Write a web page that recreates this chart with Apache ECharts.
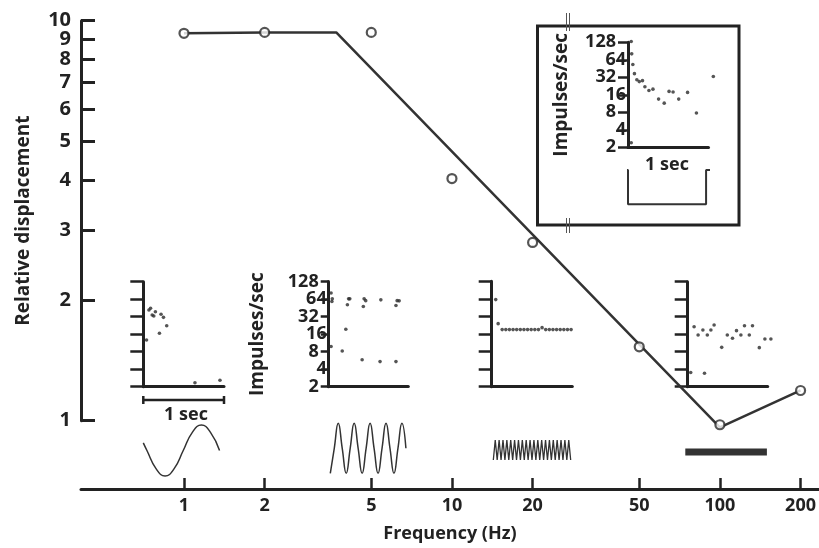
<!DOCTYPE html>
<html>
<head>
<meta charset="utf-8">
<script src="https://cdn.jsdelivr.net/npm/echarts@6/dist/echarts.min.js"></script>
<style>
  html, body { margin: 0; padding: 0; background: #fff; }
  #chart { width: 819px; height: 548px; }
</style>
</head>
<body>
<div id="chart"></div>
<script>
// main plot: threshold displacement vs frequency
const freqHz = [1, 2, 5, 10, 20, 50, 100, 200];
const displacement = [9.3, 9.35, 9.35, 4.03, 2.79, 1.53, 0.977, 1.19];
const curveHz = [1, 2, 3.7, 100, 200];
const curveDisp = [9.3, 9.35, 9.35, 0.962, 1.19];
const xTicks = [1, 2, 5, 10, 20, 50, 100, 200];
const yTicks = [1, 2, 3, 4, 5, 6, 7, 8, 9, 10];

// insets: impulses/sec against time (sec)
const inset1Time = [0.04, 0.07, 0.09, 0.11, 0.13, 0.15, 0.20, 0.22, 0.25, 0.29, 0.64, 0.95];
const inset1Rate = [12.7, 41.7, 44.6, 34.2, 32.9, 39, 16.6, 35.2, 31.2, 22.4, 2.34, 2.58];

const inset2Time = [0.03, 0.045, 0.04, 0.25, 0.265, 0.235, 0.445, 0.465, 0.435, 0.655, 0.86, 0.885, 0.845, 0.215, 0.03, 0.17, 0.42, 0.645, 0.845];
const inset2Rate = [81, 64.5, 58, 64.5, 64.5, 51, 64.5, 60, 47.6, 62, 60, 59.6, 49.5, 19.4, 9.8, 8.2, 5.8, 5.4, 5.4];

const inset3Time = [0.05, 0.08, 0.13, 0.175, 0.22, 0.265, 0.31, 0.355, 0.40, 0.445, 0.49, 0.535, 0.58, 0.625, 0.67, 0.715, 0.76, 0.805, 0.85, 0.895, 0.94, 0.985];
const inset3Rate = [62, 24, 19, 19, 19, 19, 19, 19, 19, 19, 19, 19, 19, 20.5, 19, 19, 19, 19, 19, 19, 19, 19];

const inset4Time = [0.0375, 0.08, 0.13, 0.19, 0.245, 0.29, 0.33, 0.21, 0.425, 0.495, 0.56, 0.61, 0.665, 0.71, 0.77, 0.81, 0.895, 0.965, 1.04];
const inset4Rate = [3.5, 21.5, 15.5, 18.9, 15.5, 18.9, 23, 3.4, 9.5, 15.5, 13.6, 18.4, 15.5, 22.4, 15.5, 22.4, 9.4, 13.2, 13.2];

const inset5Time = [0.04, 0.046, 0.06, 0.08, 0.11, 0.14, 0.18, 0.21, 0.26, 0.31, 0.38, 0.45, 0.51, 0.56, 0.63, 0.74, 0.85, 1.06, 0.04];
const inset5Rate = [132, 81, 53, 37, 29, 27, 28, 22, 19, 20, 13.5, 11.5, 18.3, 17.9, 13.5, 17.6, 7.8, 33, 2.4];
const rateTicks = [2, 4, 8, 16, 32, 64, 128];

// stimulus traces under each inset (time in sec, relative level)
const stim1Time = [0, 0.045, 0.1575, 0.27, 0.3825, 0.495, 0.6075, 0.72, 0.8325, 0.945];
const stim1Level = [0.3, 0, -0.71, -1, -0.71, 0, 0.71, 1, 0.71, 0];
const stim2Time = [0.02, 0.07, 0.12, 0.17, 0.22, 0.27, 0.32, 0.37, 0.42, 0.47, 0.52, 0.57, 0.62, 0.67, 0.72, 0.77, 0.82, 0.87, 0.92, 0.97];
const stim2Level = [-1, 0, 1, 0, -1, 0, 1, 0, -1, 0, 1, 0, -1, 0, 1, 0, -1, 0, 1, 0];
const stim3Time = [0.02, 0.044, 0.068, 0.092, 0.116, 0.14, 0.164, 0.188, 0.212, 0.236, 0.26, 0.284, 0.308, 0.332, 0.356, 0.38, 0.404, 0.428, 0.452, 0.476, 0.5, 0.524, 0.548, 0.572, 0.596, 0.62, 0.644, 0.668, 0.692, 0.716, 0.74, 0.764, 0.788, 0.812, 0.836, 0.86, 0.884, 0.908, 0.932, 0.956, 0.98];
const stim3Level = [-1, 1, -1, 1, -1, 1, -1, 1, -1, 1, -1, 1, -1, 1, -1, 1, -1, 1, -1, 1, -1, 1, -1, 1, -1, 1, -1, 1, -1, 1, -1, 1, -1, 1, -1, 1, -1, 1, -1, 1, -1];
const stim4Time = [-0.03, 0.99];
const stim4Level = [0, 0];
const stim5Time = [-0.17, 0, 0, 0.97, 0.97, 1.17];
const stim5Level = [1, 1, 0, 0, 1, 1];

const INK = '#222';
const FONT = 'Open Sans';

const chart = echarts.init(document.getElementById('chart'));

const pairs = (xs, ys, fx, fy) => xs.map((x, i) => [fx(x), fy(ys[i])]);
const ident = v => v;
const pow10 = v => String(Math.round(Math.pow(10, v)));
const pow2 = v => String(Math.round(Math.pow(2, v)));
const textBold = (size) => ({ fontSize: size, fontWeight: 'bold', color: INK, fontFamily: FONT });

// inset grid boxes [left, top, width, height]
const insetBoxes = [
  [143.3, 281.7, 80.7, 105],
  [328.7, 281.5, 79.6, 105.2],
  [491.7, 281.2, 80.6, 105.5],
  [687.7, 281.7, 80, 105],
  [628, 42.3, 80.5, 105]
];
const stimBoxes = [
  [143.3, 425, 80.7, 51],
  [328.7, 423.3, 79.6, 50],
  [491.7, 440, 80.6, 20],
  [687.7, 448, 80, 8],
  [628, 170, 80.5, 34.3]
];

const grids = [{ left: 81, top: 20.7, width: 738, height: 401 }];
insetBoxes.concat(stimBoxes).forEach(b => grids.push({ left: b[0], top: b[1], width: b[2], height: b[3] }));

const xAxes = [{
  id: 'xMain', gridIndex: 0, type: 'value', min: -0.3843, max: 2.3694, offset: 68.3,
  axisLine: { onZero: false, lineStyle: { color: INK, width: 3 } },
  axisTick: { inside: true, length: 11, customValues: xTicks.map(Math.log10), lineStyle: { color: INK, width: 2.5 } },
  axisLabel: Object.assign({ customValues: xTicks.map(Math.log10), formatter: pow10, margin: 8 }, textBold(18)),
  splitLine: { show: false },
  name: 'Frequency (Hz)', nameLocation: 'middle', nameGap: 36,
  nameTextStyle: textBold(18)
}];
// the 10 label sits tight on the 9, so it is carried by a second, bare axis
const yAxes = [{
  id: 'yMain', gridIndex: 0, type: 'value', min: 0, max: 1,
  axisLine: { onZero: false, lineStyle: { color: INK, width: 3 } },
  axisTick: { inside: true, length: 14, customValues: yTicks.map(Math.log10), lineStyle: { color: INK, width: 3 } },
  axisLabel: Object.assign({ customValues: yTicks.slice(0, -1).map(Math.log10), formatter: pow10, margin: 10, showMaxLabel: true, showMinLabel: true }, textBold(20)),
  splitLine: { show: false },
  name: 'Relative displacement', nameLocation: 'middle', nameGap: 48, nameRotate: 90,
  nameTextStyle: textBold(19)
}, {
  id: 'yMainTop', gridIndex: 0, type: 'value', min: 0, max: 1, position: 'left',
  axisLine: { show: false }, axisTick: { show: false }, splitLine: { show: false },
  axisLabel: Object.assign({ customValues: yTicks.slice(-1).map(Math.log10), formatter: pow10, margin: 10, showMaxLabel: true }, textBold(20))
}];

// inset axes
const insetTickLen = [13, 8, 13, 13, 10];
const insetLabels = [false, true, false, false, true];
const rateLog = rateTicks.map(Math.log2);
// rate labels sit closer than their height, so they are split over two axes
const rateLabelsA = rateLog.filter((v, k) => k % 2 === 1); // 4, 16, 64
const rateLabelsB = rateLog.filter((v, k) => k % 2 === 0); // 2, 8, 32, 128
insetBoxes.forEach((b, i) => {
  const g = i + 1;
  xAxes.push({
    id: 'xIn' + i, gridIndex: g, type: 'value', min: 0, max: 1,
    axisLine: { onZero: false, lineStyle: { color: INK, width: 3 } },
    axisTick: { show: false }, axisLabel: { show: false }, splitLine: { show: false }
  });
  yAxes.push({
    id: 'yIn' + i, gridIndex: g, type: 'value', min: 1, max: 7,
    axisLine: { onZero: false, lineStyle: { color: INK, width: 3 } },
    axisTick: { length: insetTickLen[i], customValues: rateLog, lineStyle: { color: INK, width: 2.5 } },
    axisLabel: Object.assign({ show: insetLabels[i], customValues: rateLabelsA, formatter: pow2, margin: 2, showMaxLabel: true, showMinLabel: true }, textBold(18)),
    splitLine: { show: false },
    name: insetLabels[i] ? 'Impulses/sec' : '', nameLocation: 'middle', nameRotate: 90,
    nameGap: i === 1 ? 62 : 57,
    nameTextStyle: textBold(19)
  });
  if (insetLabels[i]) {
    yAxes.push({
      id: 'yInAlt' + i, gridIndex: g, type: 'value', min: 1, max: 7, position: 'left',
      axisLine: { show: false }, axisTick: { show: false }, splitLine: { show: false },
      axisLabel: Object.assign({ customValues: rateLabelsB, formatter: pow2, margin: 2 + insetTickLen[i], showMaxLabel: true, showMinLabel: true }, textBold(18))
    });
  }
});
// stimulus axes (hidden)
const stimRanges = [[-1, 1], [-1, 1], [-1, 1], [-1, 1], [0, 1]];
stimBoxes.forEach((b, i) => {
  xAxes.push({ id: 'xSt' + i, gridIndex: i + 6, type: 'value', min: 0, max: 1, show: false });
  yAxes.push({ id: 'ySt' + i, gridIndex: i + 6, type: 'value', min: stimRanges[i][0], max: stimRanges[i][1], show: false });
});

const dot = (i, t, r) => ({
  type: 'scatter', xAxisId: 'xIn' + i, yAxisId: 'yIn' + i, clip: false,
  symbol: 'circle', symbolSize: 3.6, itemStyle: { color: '#2a2a2a' },
  data: pairs(t, r, ident, Math.log2)
});
const stim = (i, t, l, w, smooth) => ({
  type: 'line', xAxisId: 'xSt' + i, yAxisId: 'ySt' + i, clip: false, showSymbol: false, symbol: 'none',
  smooth: smooth, lineStyle: { color: '#333', width: w },
  data: pairs(t, l, ident, ident)
});

const series = [
  {
    type: 'line', xAxisId: 'xMain', yAxisId: 'yMain', clip: false, symbol: 'none',
    lineStyle: { color: '#333', width: 2.5 }, z: 2,
    data: pairs(curveHz, curveDisp, Math.log10, Math.log10)
  },
  {
    type: 'scatter', xAxisId: 'xMain', yAxisId: 'yMain', clip: false,
    symbol: 'circle', symbolSize: 9, z: 3,
    itemStyle: { color: '#fff', borderColor: '#2a2a2a', borderWidth: 2.2 },
    data: pairs(freqHz, displacement, Math.log10, Math.log10)
  },
  dot(0, inset1Time, inset1Rate),
  dot(1, inset2Time, inset2Rate),
  dot(2, inset3Time, inset3Rate),
  dot(3, inset4Time, inset4Rate),
  dot(4, inset5Time, inset5Rate),
  stim(0, stim1Time, stim1Level, 1.5, 0.5),
  stim(1, stim2Time, stim2Level, 1.5, 0.5),
  stim(2, stim3Time, stim3Level, 1.3, false),
  stim(3, stim4Time, stim4Level, 7, false),
  stim(4, stim5Time, stim5Level, 2, false)
];

const option = {
  animation: false,
  backgroundColor: '#fff',
  grid: grids,
  xAxis: xAxes,
  yAxis: yAxes,
  series: series,
  graphic: [
    // frame round the top-right inset
    { type: 'rect', shape: { x: 537.5, y: 26, width: 201.5, height: 199 }, style: { fill: 'none', stroke: INK, lineWidth: 3 } },
    { type: 'line', shape: { x1: 566.5, y1: 13, x2: 566.5, y2: 31 }, style: { stroke: '#555', lineWidth: 1 } },
    { type: 'line', shape: { x1: 569.5, y1: 13, x2: 569.5, y2: 31 }, style: { stroke: '#555', lineWidth: 1 } },
    { type: 'line', shape: { x1: 566.5, y1: 218, x2: 566.5, y2: 233 }, style: { stroke: '#555', lineWidth: 1 } },
    { type: 'line', shape: { x1: 569.5, y1: 218, x2: 569.5, y2: 233 }, style: { stroke: '#555', lineWidth: 1 } },
    // 1 sec calibration bar under the first inset
    { type: 'polyline', shape: { points: [[143.3, 396], [143.3, 404], [143.3, 400], [224, 400], [224, 396], [224, 404]] }, style: { fill: 'none', stroke: INK, lineWidth: 2.5 } },
    { type: 'text', x: 186, y: 415, style: { text: '1 sec', fill: INK, font: 'bold 18px "Open Sans"', align: 'center', verticalAlign: 'middle' } },
    { type: 'text', x: 667, y: 165, style: { text: '1 sec', fill: INK, font: 'bold 18px "Open Sans"', align: 'center', verticalAlign: 'middle' } }
  ]
};

chart.setOption(option);
</script>
</body>
</html>
